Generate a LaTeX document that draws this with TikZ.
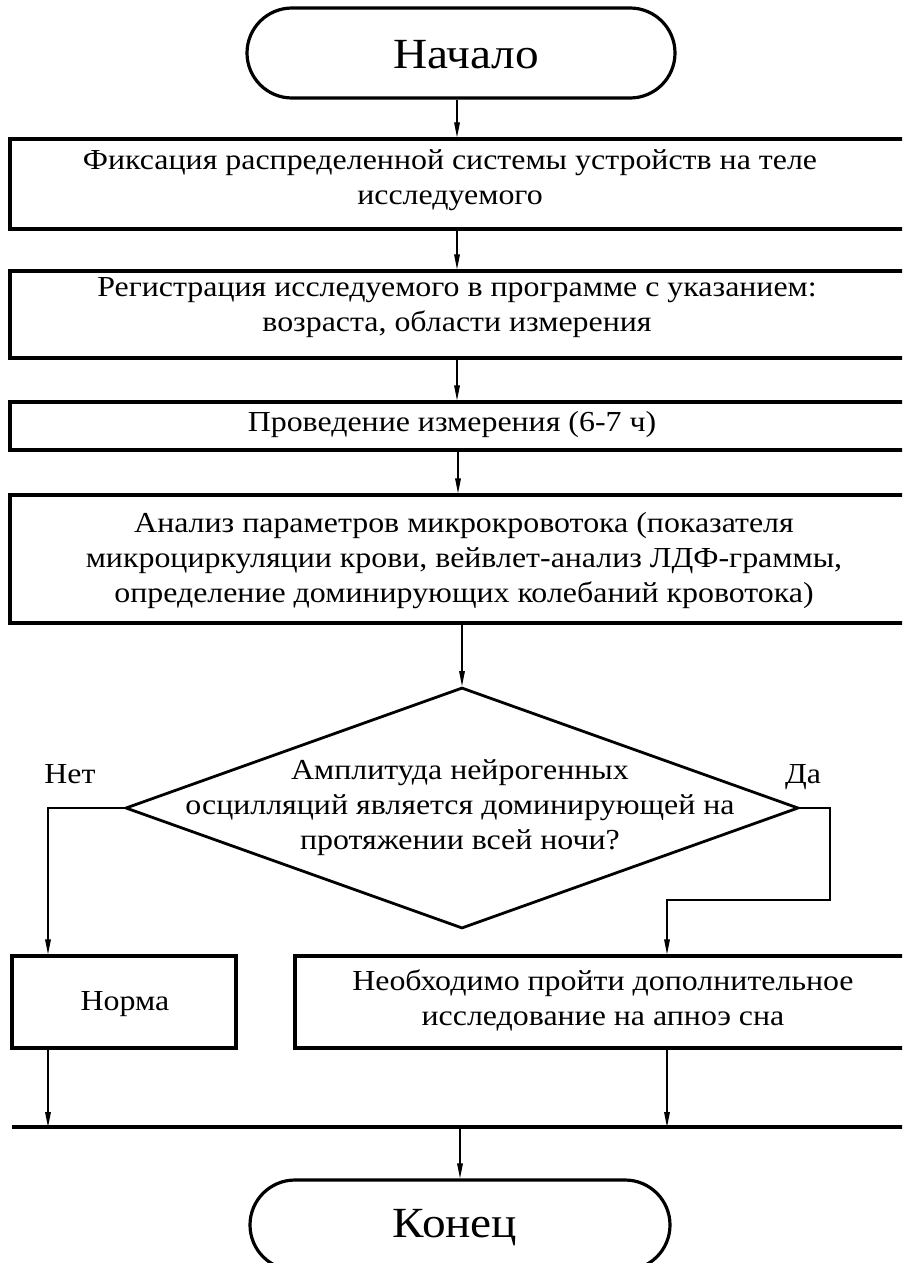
\documentclass[tikz,border=0pt]{standalone}
\usepackage{fontspec}
\setmainfont[FakeStretch=1.1]{Liberation Serif}
\usetikzlibrary{arrows.meta,shapes.geometric}
\tikzset{
  shape line/.style={draw, line width=1.6pt},
  procbox/.style={shape line, rectangle, inner sep=0pt},
  termbox/.style={shape line, rectangle, rounded corners=22.5pt, inner sep=0pt},
  decbox/.style={draw, line width=1.4pt, diamond, inner sep=0pt},
  txt/.style={align=center, inner sep=0pt, font=\fontsize{14.5}{17.5}\selectfont},
  bigtxt/.style={inner sep=0pt, font=\fontsize{21.5}{26}\selectfont},
  arr/.style={line width=0.6pt, -{Triangle[length=7.5pt,width=2.8pt]}},
  bus/.style={line width=2.2pt},
}
\begin{document}
\begin{tikzpicture}[x=0.5pt,y=-0.5pt]
\useasboundingbox (0,0) rectangle (902,1263);
\clip (0,0) rectangle (902,1263);
% start
\node[termbox, minimum width=214pt, minimum height=45pt] (start) at (461,53) {};
\node[bigtxt] (starttxt) at (466,55) {Начало};
% box 1
\node[procbox, minimum width=448pt, minimum height=45pt] (b1) at (458,184) {};
\node[txt] (b1txt) at (450,180) {Фиксация распределенной системы устройств на теле\\исследуемого};
% box 2
\node[procbox, minimum width=448pt, minimum height=43.5pt] (b2) at (458,314.5) {};
\node[txt] (b2txt) at (457,308) {Регистрация исследуемого в программе с указанием:\\возраста, области измерения};
% box 3
\node[procbox, minimum width=448pt, minimum height=24pt] (b3) at (458,426) {};
\node[txt] (b3txt) at (452,425) {Проведение измерения (6-7 ч)};
% box 4
\node[procbox, minimum width=448pt, minimum height=64pt] (b4) at (458,559) {};
\node[txt] (b4txt) at (464,561) {Анализ параметров микрокровотока (показателя\\микроциркуляции крови, вейвлет-анализ ЛДФ-граммы,\\определение доминирующих колебаний кровотока)};
% decision
\node[decbox, minimum width=336.5pt, minimum height=120.5pt] (d) at (462,808) {};
\node[txt] (dtxt) at (460,808) {Амплитуда нейрогенных\\осцилляций является доминирующей на\\протяжении всей ночи?};
\node[txt, anchor=base] (no) at (70,783) {Нет};
\node[txt, anchor=base] (yes) at (803,783) {Да};
% outcomes
\node[procbox, minimum width=112pt, minimum height=46pt] (norma) at (124,1002) {};
\node[txt] (normatxt) at (125,1004) {Норма};
\node[procbox, minimum width=305.5pt, minimum height=46pt] (apnea) at (600.5,1002) {};
\node[txt] (apneatxt) at (603,1000) {Необходимо пройти дополнительное\\исследование на апноэ сна};
% end
\node[termbox, minimum width=210pt, minimum height=45pt] (end) at (460,1225) {};
\node[bigtxt] (endtxt) at (455,1228) {Конец};
% coordinates
\coordinate (L) at (48,808);
\coordinate (R1) at (830,808);
\coordinate (R2) at (830,900);
\coordinate (R3) at (667,900);
\coordinate (busL) at (12,1127);
\coordinate (busR) at (906,1127);
% connectors
\draw[arr] (start.south -| 457,0) -- (457,0 |- b1.north);
\draw[arr] (b1.south -| 457,0) -- (457,0 |- b2.north);
\draw[arr] (b2.south -| 457,0) -- (457,0 |- b3.north);
\draw[arr] (b3.south -| 458,0) -- (458,0 |- b4.north);
\draw[arr] (b4.south -| d.north) -- (d.north);
\draw[arr] (d.west) -- (L) -- (L |- norma.north);
\draw[arr] (d.east) -- (R1) -- (R2) -- (R3) -- (R3 |- apnea.north);
\draw[arr] (L |- norma.south) -- (L |- busL);
\draw[arr] (R3 |- apnea.south) -- (R3 |- busL);
\draw[bus] (busL) -- (busR);
\draw[arr] (end.north |- busL) -- (end.north);
\end{tikzpicture}
\end{document}
